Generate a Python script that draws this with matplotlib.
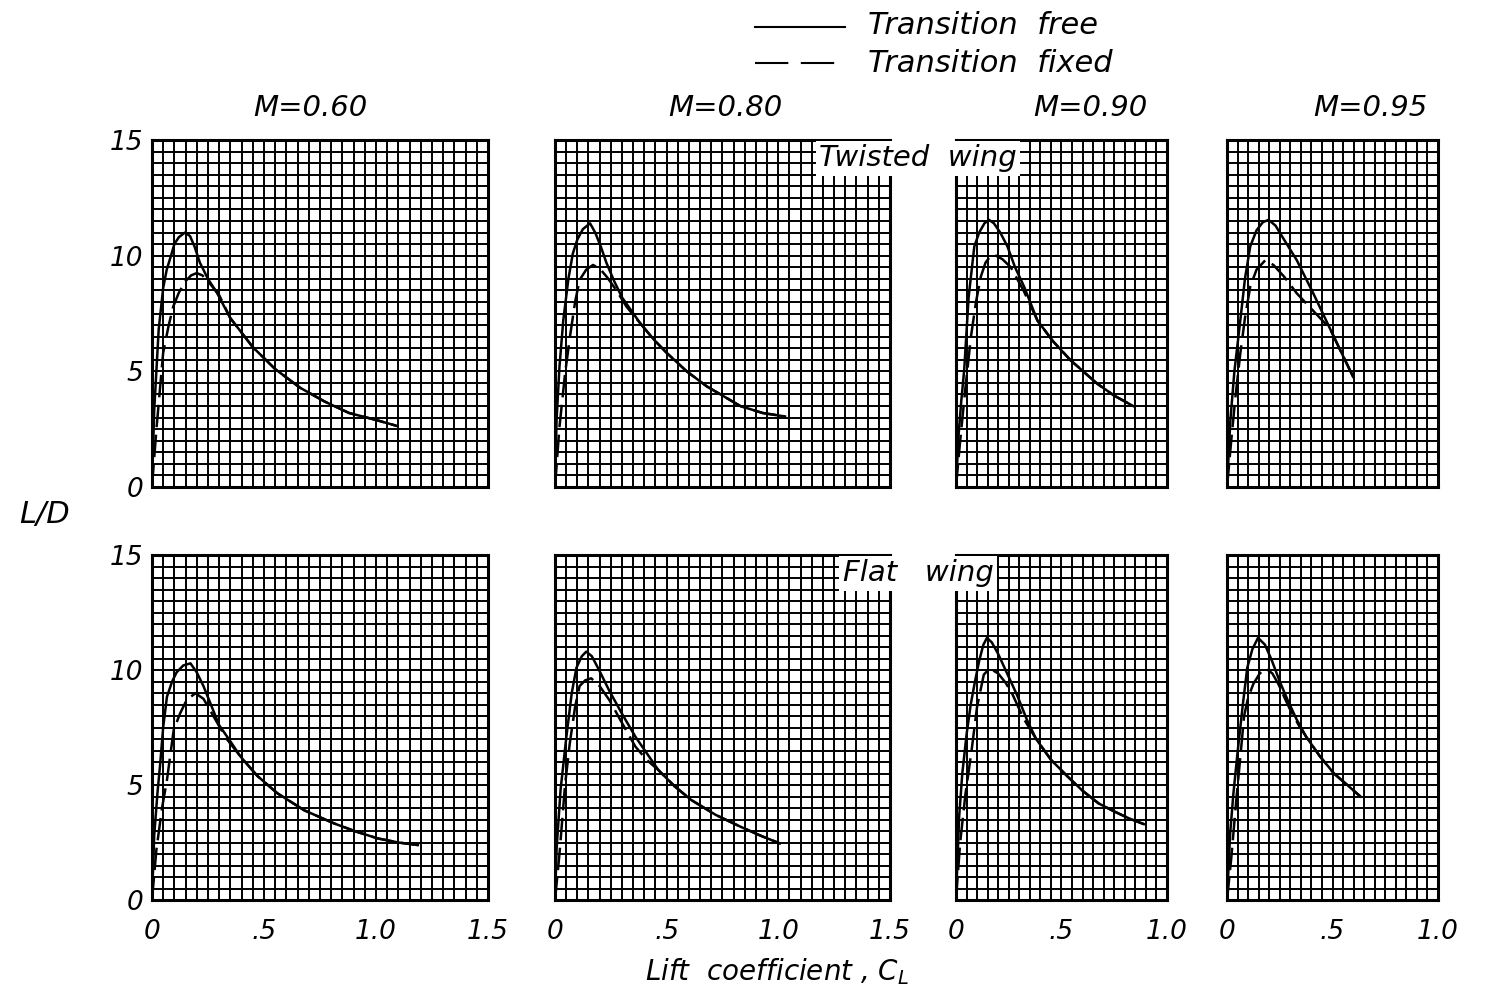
import matplotlib.pyplot as plt
from matplotlib.ticker import MultipleLocator
from matplotlib.lines import Line2D

plt.rcParams['font.family'] = 'DejaVu Sans'

# Mach numbers and CL range of each column
mach_labels = ['M=0.60', 'M=0.80', 'M=0.90', 'M=0.95']
cl_max = [1.5, 1.5, 1.0, 1.0]

# Twisted wing (upper row): transition free / fixed
tw_free_cl = [
    [0, 0.01, 0.03, 0.05, 0.066, 0.085, 0.10, 0.12, 0.147, 0.17, 0.19, 0.214, 0.25, 0.29,
     0.35, 0.45, 0.55, 0.66, 0.77, 0.88, 1.0, 1.09],
    [0, 0.007, 0.02, 0.037, 0.06, 0.08, 0.10, 0.125, 0.157, 0.18, 0.205, 0.23, 0.265, 0.30,
     0.38, 0.44, 0.50, 0.59, 0.68, 0.83, 0.93, 1.03],
    [0, 0.012, 0.025, 0.039, 0.06, 0.087, 0.11, 0.135, 0.157, 0.18, 0.21, 0.244, 0.28, 0.323,
     0.386, 0.46, 0.543, 0.669, 0.75, 0.84],
    [0, 0.016, 0.035, 0.063, 0.085, 0.11, 0.14, 0.17, 0.197, 0.23, 0.27, 0.331, 0.41, 0.488,
     0.54, 0.598],
]
tw_free_ld = [
    [0, 3.3, 6.8, 8.6, 9.4, 10.0, 10.5, 10.8, 11.0, 10.85, 10.4, 9.7, 9.0, 8.4,
     7.3, 6.05, 5.1, 4.3, 3.7, 3.2, 2.9, 2.65],
    [0, 2.9, 5.2, 7.2, 9.0, 10.1, 10.7, 11.15, 11.4, 11.0, 10.4, 9.7, 8.9, 8.2,
     7.1, 6.4, 5.8, 5.0, 4.35, 3.5, 3.2, 3.05],
    [0, 2.2, 3.7, 5.05, 8.2, 10.4, 11.0, 11.4, 11.55, 11.4, 11.0, 10.4, 9.5, 8.66,
     7.2, 6.3, 5.48, 4.47, 3.95, 3.5],
    [0, 2.9, 5.0, 7.2, 9.0, 10.4, 11.1, 11.45, 11.55, 11.3, 10.7, 9.8, 8.35, 6.85,
     5.85, 4.76],
]
tw_fix_cl = [
    [0, 0.02, 0.05, 0.075, 0.095, 0.12, 0.15, 0.175, 0.20, 0.225, 0.25, 0.30, 0.35,
     0.45, 0.55, 0.66, 0.77, 0.88, 1.0, 1.09],
    [0, 0.02, 0.045, 0.067, 0.09, 0.11, 0.14, 0.17, 0.20, 0.235, 0.275, 0.32, 0.38,
     0.44, 0.50, 0.59, 0.68, 0.83, 0.93, 1.03],
    [0, 0.02, 0.045, 0.071, 0.095, 0.118, 0.14, 0.165, 0.19, 0.22, 0.26, 0.32, 0.386,
     0.46, 0.543, 0.669, 0.75, 0.84],
    [0, 0.02, 0.04, 0.063, 0.085, 0.11, 0.14, 0.181, 0.22, 0.27, 0.331, 0.40, 0.457,
     0.488, 0.54, 0.598],
]
tw_fix_ld = [
    [0, 2.5, 5.8, 7.0, 7.8, 8.4, 8.9, 9.15, 9.25, 9.15, 8.9, 8.3, 7.3,
     6.05, 5.1, 4.3, 3.7, 3.2, 2.9, 2.65],
    [0, 2.6, 4.9, 6.5, 8.0, 8.95, 9.4, 9.6, 9.45, 9.05, 8.5, 7.8, 7.1,
     6.4, 5.8, 5.0, 4.35, 3.5, 3.2, 3.05],
    [0, 2.0, 4.3, 6.5, 8.0, 9.1, 9.7, 10.0, 10.0, 9.85, 9.5, 8.5, 7.2,
     6.3, 5.48, 4.47, 3.95, 3.5],
    [0, 2.0, 3.9, 5.77, 7.3, 8.66, 9.4, 9.8, 9.6, 9.1, 8.37, 7.7, 7.15,
     6.85, 5.85, 4.76],
]

# Flat wing (lower row): transition free / fixed
fl_free_cl = [
    [0, 0.01, 0.025, 0.037, 0.05, 0.067, 0.09, 0.11, 0.14, 0.172, 0.2, 0.23, 0.261, 0.3,
     0.35, 0.396, 0.47, 0.56, 0.68, 0.813, 0.91, 1.007, 1.1, 1.187],
    [0, 0.007, 0.025, 0.051, 0.075, 0.096, 0.12, 0.14, 0.165, 0.2, 0.243, 0.30, 0.36,
     0.463, 0.535, 0.61, 0.72, 0.83, 0.92, 1.007],
    [0, 0.015, 0.03, 0.051, 0.07, 0.088, 0.11, 0.13, 0.147, 0.17, 0.2, 0.235, 0.29, 0.338,
     0.38, 0.45, 0.53, 0.6, 0.676, 0.75, 0.82, 0.89],
    [0, 0.015, 0.03, 0.051, 0.075, 0.096, 0.12, 0.147, 0.18, 0.213, 0.25, 0.287, 0.33,
     0.375, 0.44, 0.507, 0.57, 0.632],
]
fl_free_ld = [
    [0, 2.8, 4.7, 5.94, 7.5, 8.84, 9.5, 9.9, 10.2, 10.29, 9.9, 9.3, 8.55, 7.6,
     6.9, 6.23, 5.4, 4.64, 3.9, 3.33, 2.98, 2.68, 2.5, 2.39],
    [0, 2.2, 4.8, 7.1, 9.0, 10.1, 10.6, 10.8, 10.6, 9.95, 9.1, 8.1, 7.1,
     5.65, 4.95, 4.35, 3.7, 3.19, 2.8, 2.46],
    [0, 3.6, 5.5, 7.25, 8.5, 9.4, 10.4, 11.1, 11.4, 11.2, 10.7, 10.0, 8.9, 7.8,
     7.0, 6.1, 5.36, 4.75, 4.2, 3.85, 3.55, 3.3],
    [0, 2.9, 4.6, 6.5, 8.5, 10.1, 10.9, 11.4, 11.1, 10.4, 9.5, 8.7, 7.85,
     7.1, 6.25, 5.5, 5.0, 4.5],
]
fl_fix_cl = [
    [0, 0.02, 0.045, 0.067, 0.097, 0.125, 0.155, 0.194, 0.23, 0.276, 0.33, 0.396,
     0.47, 0.56, 0.68, 0.813, 0.91, 1.007, 1.1, 1.187],
    [0, 0.02, 0.045, 0.066, 0.09, 0.11, 0.135, 0.162, 0.2, 0.243, 0.30, 0.36, 0.41,
     0.463, 0.535, 0.61, 0.72, 0.83, 0.92, 1.007],
    [0, 0.02, 0.045, 0.074, 0.1, 0.132, 0.16, 0.2, 0.235, 0.265, 0.32, 0.38,
     0.45, 0.53, 0.6, 0.676, 0.75, 0.82, 0.89],
    [0, 0.02, 0.044, 0.065, 0.081, 0.1, 0.125, 0.155, 0.184, 0.215, 0.243, 0.27, 0.30,
     0.34, 0.375, 0.44, 0.507, 0.57, 0.632],
]
fl_fix_ld = [
    [0, 2.2, 4.0, 5.22, 7.39, 8.1, 8.7, 8.99, 8.75, 7.97, 7.05, 6.23,
     5.4, 4.64, 3.9, 3.33, 2.98, 2.68, 2.5, 2.39],
    [0, 2.0, 5.0, 6.8, 8.4, 9.3, 9.55, 9.64, 9.3, 8.7, 7.7, 6.67, 6.1,
     5.65, 4.95, 4.35, 3.7, 3.19, 2.8, 2.46],
    [0, 2.5, 4.6, 6.5, 8.4, 9.8, 10.07, 9.85, 9.45, 9.0, 7.9, 7.0,
     6.1, 5.36, 4.75, 4.2, 3.85, 3.55, 3.3],
    [0, 1.8, 4.35, 6.4, 8.0, 8.8, 9.4, 9.85, 10.07, 9.85, 9.4, 8.85, 8.26,
     7.6, 7.1, 6.25, 5.5, 5.0, 4.5],
]

y_ticks = [0, 5, 10, 15]
x_ticks_long = [0, 0.5, 1.0, 1.5]
x_labels_long = ['0', '.5', '1.0', '1.5']
x_ticks_short = [0, 0.5, 1.0]
x_labels_short = ['0', '.5', '1.0']

fig = plt.figure(figsize=(15, 9.99), dpi=100)

lefts = [0.1013, 0.370, 0.6373, 0.818]
widths = [0.224, 0.2233, 0.1407, 0.1407]
bottoms = [0.5125, 0.0991]
heights = [0.3473, 0.3453]

rows = [(tw_free_cl, tw_free_ld, tw_fix_cl, tw_fix_ld),
        (fl_free_cl, fl_free_ld, fl_fix_cl, fl_fix_ld)]

for r, (fcl, fld, xcl, xld) in enumerate(rows):
    for c in range(4):
        ax = fig.add_axes([lefts[c], bottoms[r], widths[c], heights[r]])
        ax.plot(fcl[c], fld[c], color='black', lw=1.8, zorder=3,
                solid_joinstyle='round')
        ax.plot(xcl[c], xld[c], color='black', lw=1.8, dashes=(9, 3), zorder=3,
                dash_joinstyle='round')
        ax.set_xlim(0, cl_max[c])
        ax.set_ylim(0, 15)
        ax.xaxis.set_minor_locator(MultipleLocator(0.05))
        ax.yaxis.set_minor_locator(MultipleLocator(0.5))
        if cl_max[c] > 1.2:
            ax.set_xticks(x_ticks_long, x_labels_long if r == 1 else [''] * 4)
        else:
            ax.set_xticks(x_ticks_short, x_labels_short if r == 1 else [''] * 3)
        ax.set_yticks(y_ticks, [str(v) for v in y_ticks] if c == 0 else [''] * 4)
        ax.grid(which='both', color='black', lw=1.4)
        ax.tick_params(which='both', length=0, labelsize=19)
        ax.tick_params(axis='x', pad=14)
        ax.tick_params(axis='y', pad=6)
        for lab in ax.get_xticklabels() + ax.get_yticklabels():
            lab.set_fontstyle('italic')
        for sp in ax.spines.values():
            sp.set_linewidth(2.2)

# Column titles
title_x = [310, 725, 1090, 1370]
for lbl, xp in zip(mach_labels, title_x):
    fig.text(xp / 1500, 1 - 108 / 999, lbl, ha='center', va='center',
             fontsize=21, style='italic')

# Legend at top
fig.add_artist(Line2D([755 / 1500, 845 / 1500], [1 - 27 / 999] * 2,
                      color='black', lw=1.5))
fig.add_artist(Line2D([755 / 1500, 845 / 1500], [1 - 63 / 999] * 2,
                      color='black', lw=1.5, dashes=(16, 6)))
fig.text(868 / 1500, 1 - 25 / 999, 'Transition  free', ha='left', va='center',
         fontsize=22, style='italic')
fig.text(868 / 1500, 1 - 63 / 999, 'Transition  fixed', ha='left', va='center',
         fontsize=22, style='italic')

# Row labels
box = dict(boxstyle='square,pad=0.12', fc='white', ec='none')
fig.text(918 / 1500, 1 - 158 / 999, 'Twisted  wing', ha='center', va='center',
         fontsize=21, style='italic', bbox=box)
fig.text(918 / 1500, 1 - 573 / 999, 'Flat   wing', ha='center', va='center',
         fontsize=21, style='italic', bbox=box)

# Axis labels
fig.text(45 / 1500, 1 - 515 / 999, 'L/D', ha='center', va='center',
         fontsize=22, style='italic')
fig.text(777 / 1500, 1 - 972 / 999, 'Lift  coefficient , $C_L$', ha='center',
         va='center', fontsize=20, style='italic')

fig.savefig('out.png', dpi=100)
